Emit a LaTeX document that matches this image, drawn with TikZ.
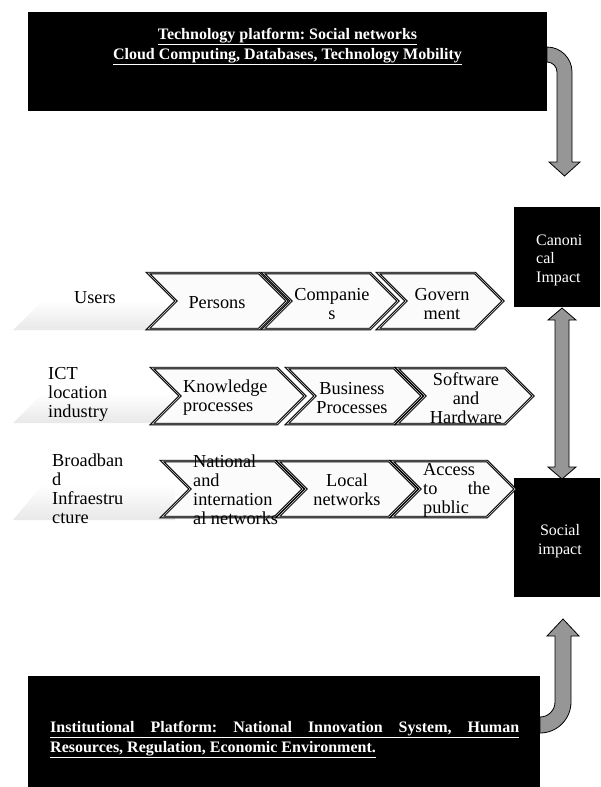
\documentclass[tikz,border=0pt]{standalone}
\usepackage{fontspec}
\setmainfont{Liberation Serif}
\frenchspacing
\tikzset{
  blkbox/.style={fill=black, draw=none, inner sep=0pt, outer sep=0pt},
  chev/.style={draw=black, line width=0.9pt, double=gray!45, double distance=0.7pt, fill=gray!3, line join=miter},
  bevelbar/.style={top color=white, bottom color=gray!18, draw=none},
  blockarrow/.style={fill={rgb,255:red,150;green,150;blue,150}, draw=black, line width=0.8pt, line join=miter},
  ctext/.style={font=\fontsize{18.3}{19}\selectfont, inner sep=0pt, align=center},
  ltext/.style={font=\fontsize{18.3}{19}\selectfont, inner sep=0pt, align=left, anchor=west},
  wtext/.style={text=white, font=\fontsize{16}{18.5}\selectfont, inner sep=0pt},
  btext/.style={text=white, font=\bfseries\fontsize{16}{20}\selectfont, inner sep=0pt}
}
\newcommand\chevshape[4]{\path[chev] (#1,#3) -- ({#2-28},#3) -- (#2,{(#3+#4)/2}) -- ({#2-28},#4) -- (#1,#4) -- ({#1+28},{(#3+#4)/2}) -- cycle;}
\newcommand\bevelshape[3]{\path[bevelbar] (13,#2) -- (43,#1) -- (#3,#1) -- (#3,#2) -- cycle;}
\begin{document}
\begin{tikzpicture}[x=1pt,y=-1pt]
\useasboundingbox (0,0) rectangle (600,787);

% top curved arrow (down)
\path[blockarrow] (547,47) .. controls (560.8,47) and (572,58.2) .. (572,72) -- (572,162) -- (580,162) -- (564.5,176) -- (549,162) -- (557,162) -- (557,72) .. controls (557,66.5) and (552.5,62) .. (547,62) -- cycle;
% bottom curved arrow (up)
\path[blockarrow] (540,733) .. controls (557.1,733) and (571,719.1) .. (571,702) -- (571,636) -- (579,636) -- (563,619) -- (547,636) -- (555,636) -- (555,702) .. controls (555,710.3) and (548.3,717) .. (540,717) -- cycle;
% double arrow
\path[blockarrow] (562,308) -- (576,320) -- (569,320) -- (569,467) -- (576,467) -- (562,479) -- (548,467) -- (555,467) -- (555,320) -- (548,320) -- cycle;

% black boxes
\node[blkbox, minimum width=519pt, minimum height=99pt, anchor=north west] (techbox) at (28,12) {};
\node[blkbox, minimum width=512pt, minimum height=111pt, anchor=north west] (instbox) at (28,676) {};
\node[blkbox, minimum width=86pt, minimum height=100pt, anchor=north west] (canon) at (514,207) {};
\node[blkbox, minimum width=86pt, minimum height=119pt, anchor=north west] (social) at (514,478) {};

\node[btext, align=center, anchor=north] (techtext) at (287.5,28) {\underline{Technology platform: Social networks}\\\underline{Cloud Computing, Databases, Technology Mobility}};
\node[btext, align=left, anchor=north west] (insttext) at (50,721) {\underline{\makebox[469pt][s]{Institutional Platform: National Innovation System, Human}}\\\underline{Resources, Regulation, Economic Environment.}};
\node[wtext, align=left, anchor=west] (canontext) at (536,260) {Canoni\\cal\\Impact};
\node[wtext, align=center] (socialtext) at (560,541) {Social\\impact};

% left bevel bars
\bevelshape{300}{330}{165}
\bevelshape{393}{423}{170}
\bevelshape{484}{520}{175}

% chevrons row 1
\chevshape{148}{287}{273}{329}
\chevshape{263}{398}{273}{329}
\chevshape{378}{503}{273}{329}
% row 2
\chevshape{152}{305}{368}{424}
\chevshape{287}{422}{368}{424}
\chevshape{397}{533}{368}{424}
% row 3
\chevshape{162}{303}{461}{517}
\chevshape{278}{417}{461}{517}
\chevshape{392}{515}{461}{517}

% labels
\node[ctext] (users) at (95,298) {Users};
\node[ltext] (ict) at (48,394) {ICT\\location\\industry};
\node[ltext] (broad) at (52,489) {Broadban\\d\\Infraestru\\cture};

\node[ctext] (persons) at (217,303) {Persons};
\node[ctext] (companies) at (332,304) {Companie\\s};
\node[ctext] (government) at (442,304) {Govern\\ment};
\node[ltext] (knowledge) at (183,398) {Knowledge\\processes};
\node[ctext] (business) at (352,398) {Business\\Processes};
\node[ctext] (software) at (466,398) {Software\\and\\Hardware};
\node[ltext] (national) at (193,490) {National\\and\\internation\\al networks};
\node[ctext] (local) at (347,490) {Local\\networks};
\node[ltext] (access) at (423,490) {Access\\\hbox to 67pt{to\hfill the}\\public};
\end{tikzpicture}
\end{document}
